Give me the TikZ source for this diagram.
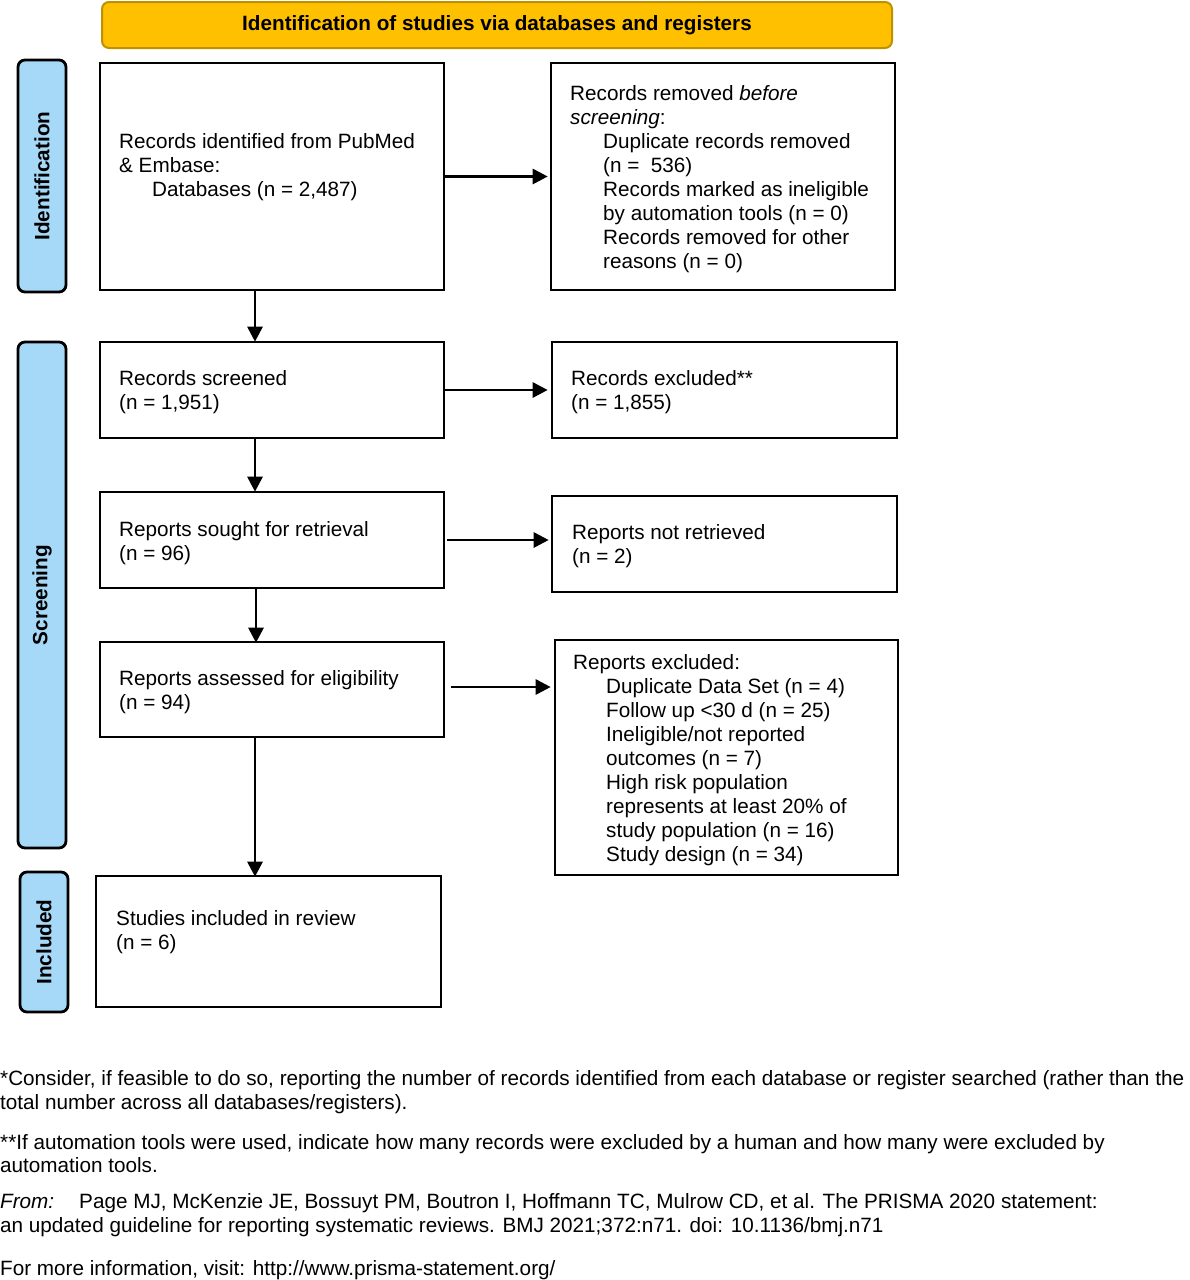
\documentclass[tikz,border=0pt]{standalone}
\usepackage{fontspec}
\setmainfont{Liberation Sans}
\usetikzlibrary{arrows.meta}
\definecolor{bannerfill}{RGB}{255,192,0}
\definecolor{bannerline}{RGB}{191,144,0}
\definecolor{sidefill}{RGB}{166,217,248}
\newcommand\fsz{\fontsize{20.7}{24}\selectfont}
\newcommand\tl[1]{\parbox[t]{400pt}{\raggedright #1}}
\newcommand\ind{\hspace*{33pt}}
\tikzset{
  box/.style={draw=black, line width=2.6pt, fill=white, rectangle, inner sep=0pt},
  side/.style={draw=black, line width=2.8pt, fill=sidefill, rounded corners=7pt, inner sep=0pt, font=\fsz\bfseries},
  banner/.style={draw=bannerline, line width=2pt, fill=bannerfill, rounded corners=7pt, inner sep=0pt, font=\fsz\bfseries},
  txt/.style={anchor=base west, inner sep=0pt, font=\fsz},
  arr/.style={line width=2.8pt, -{Triangle[length=15pt, width=15pt]}},
}
\begin{document}
\begin{tikzpicture}[x=1pt, y=-1pt]
\useasboundingbox (0,0) rectangle (1189,1280);
% banner
\node[banner, minimum width=790pt, minimum height=46pt] (ban) at (497,25) {\raisebox{-2pt}{Identification of studies via databases and registers}};
% side labels
\node[side, minimum width=48pt, minimum height=232pt] (sid) at (42,176) {};
\node[rotate=90, font=\fsz\bfseries, inner sep=0pt] (sidt) at (sid.center) {Identification};
\node[side, minimum width=48pt, minimum height=506pt] (ssc) at (42,595) {};
\node[rotate=90, font=\fsz\bfseries, inner sep=0pt] (ssct) at (ssc.center) {Screening};
\node[side, minimum width=48pt, minimum height=140pt] (sin) at (44,942) {};
\node[rotate=90, font=\fsz\bfseries, inner sep=0pt] (sint) at (sin.center) {Included};
% boxes
\node[box, minimum width=344pt, minimum height=227pt] (b1) at (272,176.5) {};
\node[box, minimum width=344pt, minimum height=227pt] (b2) at (723,176.5) {};
\node[box, minimum width=344pt, minimum height=96pt] (b3) at (272,390) {};
\node[box, minimum width=345pt, minimum height=96pt] (b4) at (724.5,390) {};
\node[box, minimum width=344pt, minimum height=96pt] (b5) at (272,540) {};
\node[box, minimum width=345pt, minimum height=96pt] (b6) at (724.5,544) {};
\node[box, minimum width=344pt, minimum height=95pt] (b7) at (272,689.5) {};
\node[box, minimum width=343pt, minimum height=235pt] (b8) at (726.5,757.5) {};
\node[box, minimum width=345pt, minimum height=131pt] (b9) at (268.5,941.5) {};
% texts
\node[txt] (t1) at (119,148.5) {\tl{Records identified from PubMed\\ \& Embase:\\ \ind Databases (n = 2,487)}};
\node[txt] (t2) at (570,100.5) {\tl{Records removed \textit{before}\\ \textit{screening}:\\ \ind Duplicate records removed\\ \ind (n = \ 536)\\ \ind Records marked as ineligible\\ \ind by automation tools (n = 0)\\ \ind Records removed for other\\ \ind reasons (n = 0)}};
\node[txt] (t3) at (119,385.5) {\tl{Records screened\\ (n = 1,951)}};
\node[txt] (t4) at (571,385.5) {\tl{Records excluded**\\ (n = 1,855)}};
\node[txt] (t5) at (119,536) {\tl{Reports sought for retrieval\\ (n = 96)}};
\node[txt] (t6) at (572,539.5) {\tl{Reports not retrieved\\ (n = 2)}};
\node[txt] (t7) at (119,685) {\tl{Reports assessed for eligibility\\ (n = 94)}};
\node[txt] (t8) at (573,669.5) {\tl{Reports excluded:\\ \ind Duplicate Data Set (n = 4)\\ \ind Follow up <30 d (n = 25)\\ \ind Ineligible/not reported\\ \ind outcomes (n = 7)\\ \ind High risk population\\ \ind represents at least 20\% of\\ \ind study population (n = 16)\\ \ind Study design (n = 34)}};
\node[txt] (t9) at (116,925.5) {\tl{Studies included in review\\ (n = 6)}};
% arrows
\draw[arr] (b1.east) -- ([xshift=-2pt]b2.west);
\draw[arr] ([xshift=-17pt]b1.south) -- ([xshift=-17pt,yshift=-1pt]b1.south |- b3.north);
\draw[arr] (b3.east) -- ([xshift=-3pt]b3.east -| b4.west);
\draw[arr] ([xshift=-17pt]b3.south) -- ([xshift=-17pt,yshift=-1pt]b3.south |- b5.north);
\draw[arr] ([xshift=2pt]b5.east) -- ([xshift=-2pt]b5.east -| b6.west);
\draw[arr] ([xshift=-16pt]b5.south) -- ([xshift=-16pt,yshift=-2pt]b5.south |- b7.north);
\draw[arr] ([xshift=6pt,yshift=2.5pt]b7.east) -- ([xshift=-3pt,yshift=2.5pt]b7.east -| b8.west);
\draw[arr] ([xshift=-17pt]b7.south) -- ([xshift=-17pt,yshift=-2pt]b7.south |- b9.north);
% footer
\node[txt] (f1) at (0,1085) {*Consider, if feasible to do so, reporting the number of records identified from each database or register searched (rather than the};
\node[txt] (f2) at (0,1109) {total number across all databases/registers).};
\node[txt] (f3) at (0,1149) {**If automation tools were used, indicate how many records were excluded by a human and how many were excluded by};
\node[txt] (f4) at (0,1172) {automation tools.};
\node[txt] (f5) at (0,1208) {\textit{From:}};
\node[txt] (f5b) at (79,1208) {Page MJ, McKenzie JE, Bossuyt PM, Boutron I, Hoffmann TC, Mulrow CD, et al. The PRISMA 2020 statement:};
\node[txt] (f6) at (0,1232) {an updated guideline for reporting systematic reviews. BMJ 2021;372:n71. doi: 10.1136/bmj.n71};
\node[txt] (f7) at (0,1275) {For more information, visit: http://www.prisma-statement.org/};
\end{tikzpicture}
\end{document}
